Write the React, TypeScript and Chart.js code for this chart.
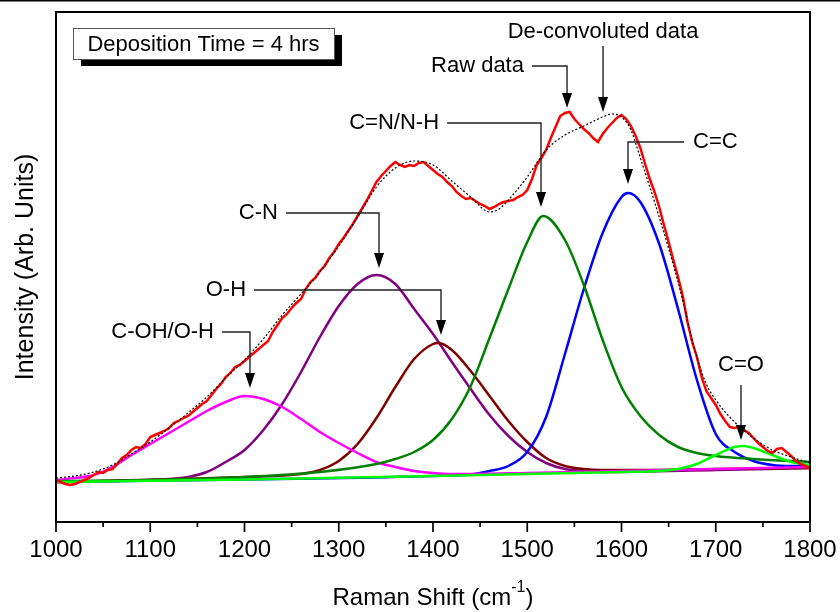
import React, { useEffect, useRef } from "react";
import { Chart, registerables } from "chart.js";
Chart.register(...registerables);

const FONT = '"Liberation Sans", Arial, Helvetica, sans-serif';

// ---- axis ----
const majorTicks = [1000, 1100, 1200, 1300, 1400, 1500, 1600, 1700, 1800];
const minorTicks = [1050, 1150, 1250, 1350, 1450, 1550, 1650, 1750];

// ---- raw data (red) ----
const rawShift = [
  1000, 1005, 1010, 1015, 1020, 1025, 1030, 1035, 1040, 1045, 1050, 1055, 1060, 1065, 1070, 1075, 1080, 1085, 1090, 1095,
  1100, 1105, 1110, 1115, 1120, 1125, 1130, 1135, 1140, 1145, 1150, 1155, 1160, 1165, 1170, 1175, 1180, 1185, 1190, 1195,
  1200, 1205, 1210, 1215, 1220, 1225, 1230, 1235, 1240, 1245, 1250, 1255, 1260, 1265, 1270, 1275, 1280, 1285, 1290, 1295,
  1300, 1305, 1310, 1315, 1320, 1325, 1330, 1335, 1340, 1345, 1350, 1355, 1360, 1365, 1370, 1375, 1380, 1385, 1390, 1395,
  1400, 1405, 1410, 1415, 1420, 1425, 1430, 1435, 1440, 1445, 1450, 1455, 1460, 1465, 1470, 1475, 1480, 1485, 1490, 1495,
  1500, 1505, 1510, 1515, 1520, 1525, 1530, 1535, 1540, 1545, 1550, 1555, 1560, 1565, 1570, 1575, 1580, 1585, 1590, 1595,
  1600, 1605, 1610, 1615, 1620, 1625, 1630, 1635, 1640, 1645, 1650, 1655, 1660, 1665, 1670, 1675, 1680, 1685, 1690, 1695,
  1700, 1705, 1710, 1715, 1720, 1725, 1730, 1735, 1740, 1745, 1750, 1755, 1760, 1765, 1770, 1775, 1780, 1785, 1790, 1795,
  1800,
];
const rawIntensity = [
  42, 40, 38, 37, 38, 40, 42, 44, 47, 50, 49, 52, 53, 58, 64, 67, 72, 75, 74, 78,
  85, 87, 89, 91, 94, 99, 101, 104, 106, 110, 114, 118, 121, 127, 133, 138, 145, 149, 155, 157,
  161, 165, 169, 173, 177, 181, 190, 197, 204, 208, 214, 219, 223, 233, 240, 244, 251, 256, 264, 270,
  278, 284, 291, 298, 306, 314, 322, 331, 340, 346, 351, 356, 360, 357, 355, 357, 356, 359, 360, 356,
  352, 348, 345, 340, 336, 330, 326, 323, 324, 321, 318, 316, 313, 315, 318, 320, 321, 322, 325, 327,
  332, 343, 357, 364, 372, 384, 395, 406, 409, 410, 403, 398, 393, 389, 384, 380, 388, 394, 399, 404,
  407, 403, 396, 386, 374, 358, 343, 330, 315, 297, 280, 262, 245, 226, 200, 180, 165, 145, 131, 124,
  117, 108, 101, 95, 94, 95, 92, 89, 84, 79, 75, 71, 69, 73, 74, 70, 66, 61, 58, 56,
  54,
];

// ---- de-convoluted sum (dotted) ----
const fitShift = [1000, 1020, 1040, 1060, 1080, 1100, 1120, 1140, 1160, 1180, 1200, 1220, 1240, 1260, 1280, 1300, 1320, 1340, 1360, 1380, 1400, 1420, 1440, 1460, 1470, 1480, 1500, 1520, 1540, 1560, 1580, 1590, 1600, 1610, 1620, 1640, 1660, 1680, 1690, 1700, 1720, 1740, 1760, 1780, 1800];
const fitIntensity = [44, 46, 50, 57, 68, 80, 94, 109, 125, 144, 162, 183, 207, 228, 250, 276, 305, 335, 354, 361, 357, 341, 325, 310, 313, 322, 345, 372, 387, 396, 405, 408, 405, 392, 364, 305, 240, 165, 138, 122, 100, 84, 72, 65, 59];

// ---- components ----
const cohShift = [1000, 1020, 1040, 1060, 1080, 1100, 1120, 1140, 1160, 1180, 1200, 1220, 1240, 1260, 1280, 1300, 1320, 1340, 1360, 1380, 1400, 1420, 1440, 1500, 1600, 1700, 1800];
const cohIntensity = [42, 44, 47, 55, 67, 78, 89, 100, 111, 120, 126, 123, 115, 103, 90, 79, 69, 60, 55, 51, 49, 48, 48, 49, 51, 53, 55];

const cnShift = [1000, 1100, 1120, 1140, 1160, 1180, 1200, 1220, 1240, 1260, 1280, 1300, 1320, 1340, 1360, 1380, 1400, 1420, 1440, 1460, 1480, 1500, 1520, 1540, 1560, 1580, 1700, 1800];
const cnIntensity = [40, 42, 43, 45, 50, 60, 72, 92, 118, 150, 185, 216, 238, 247, 238, 213, 188, 160, 133, 107, 86, 70, 59, 53, 51, 50, 52, 54];

const ohShift = [1000, 1200, 1260, 1280, 1300, 1320, 1340, 1360, 1380, 1400, 1406, 1420, 1440, 1460, 1480, 1500, 1520, 1540, 1560, 1580, 1600, 1700, 1800];
const ohIntensity = [40, 45, 48, 52, 61, 78, 104, 135, 163, 178, 179, 172, 151, 126, 101, 80, 64, 56, 53, 52, 52, 53, 54];

const cnnhShift = [1000, 1100, 1200, 1280, 1340, 1360, 1380, 1400, 1420, 1440, 1460, 1480, 1500, 1517, 1540, 1560, 1580, 1600, 1620, 1640, 1660, 1680, 1700, 1740, 1800];
const cnnhIntensity = [41, 42, 45, 50, 58, 63, 70, 82, 103, 136, 184, 233, 280, 306, 282, 237, 182, 135, 106, 87, 75, 69, 66, 63, 60];

const ccShift = [1000, 1400, 1440, 1460, 1480, 1500, 1520, 1540, 1560, 1580, 1600, 1607, 1620, 1640, 1660, 1680, 1700, 1720, 1740, 1760, 1780, 1800];
const ccIntensity = [40, 46, 47.5, 51, 56, 70, 105, 168, 233, 289, 325, 329, 320, 278, 213, 142, 88, 70, 61, 57, 56, 56];

const coShift = [1000, 1200, 1400, 1600, 1640, 1660, 1680, 1700, 1720, 1730, 1740, 1760, 1780, 1800];
const coIntensity = [40, 42.5, 46, 50, 51, 53, 58, 67, 75, 76, 74, 67, 60, 57];

// ---- annotations (data coordinates) ----
const annLabels = ["C-OH/O-H", "O-H", "C-N", "C=N/N-H", "Raw data", "De-convoluted data", "C=C", "C=O"];
const annSide = ["left", "left", "left", "left", "left", "top", "right", "top"];
const annTipShift = [1205.8, 1408.5, 1342.7, 1514.6, 1542.2, 1580.4, 1606.9, 1726.8];
const annTipIntensity = [134, 187, 254, 315, 414, 410, 338, 82];
const annLevelIntensity = [190, 232, 309, 399, 456, 476, 380, 137];
const annStartShift = [1176.1, 1210.1, 1244.0, 1414.9, 1505.0, 1580.4, 1666.3, 1726.8];
const annTextIntensity = [190, 232, 309, 399, 456, 490, 380, 157];

const boxText = "Deposition Time = 4 hrs";

function pts(xs: number[], ys: number[]) {
  return xs.map((x, i) => ({ x, y: ys[i] }));
}

const overlay = {
  id: "overlay",
  afterDatasetsDraw(chart: any) {
    const { ctx, chartArea: ca, scales } = chart;
    const xs = scales.x;
    const ys = scales.y;
    ctx.save();
    // top rule of page
    ctx.fillStyle = "#000";
    ctx.fillRect(0, 0, chart.width, 1.5);

    // frame
    ctx.strokeStyle = "#000";
    ctx.lineWidth = 2;
    ctx.strokeRect(ca.left, ca.top, ca.right - ca.left, ca.bottom - ca.top);

    // ticks
    ctx.lineWidth = 1.7;
    ctx.beginPath();
    majorTicks.forEach((v) => {
      const px = xs.getPixelForValue(v);
      ctx.moveTo(px, ca.bottom);
      ctx.lineTo(px, ca.bottom + 10);
    });
    minorTicks.forEach((v) => {
      const px = xs.getPixelForValue(v);
      ctx.moveTo(px, ca.bottom);
      ctx.lineTo(px, ca.bottom + 5);
    });
    ctx.stroke();

    // tick labels
    ctx.fillStyle = "#000";
    ctx.font = `24px ${FONT}`;
    ctx.textAlign = "center";
    ctx.textBaseline = "middle";
    majorTicks.forEach((v) => {
      ctx.fillText(String(v), xs.getPixelForValue(v), ca.bottom + 28);
    });

    // x title with superscript
    const cx = (ca.left + ca.right) / 2;
    const ty = 598;
    const mainA = "Raman Shift (cm";
    const sup = "-1";
    const mainB = ")";
    ctx.font = `24px ${FONT}`;
    const wA = ctx.measureText(mainA).width;
    const wB = ctx.measureText(mainB).width;
    ctx.font = `16px ${FONT}`;
    const wS = ctx.measureText(sup).width;
    const total = wA + wS + wB;
    let sx = cx - total / 2;
    ctx.textAlign = "left";
    ctx.font = `24px ${FONT}`;
    ctx.fillText(mainA, sx, ty);
    sx += wA;
    ctx.font = `16px ${FONT}`;
    ctx.fillText(sup, sx, ty - 10);
    sx += wS;
    ctx.font = `24px ${FONT}`;
    ctx.fillText(mainB, sx, ty);

    // y title
    ctx.save();
    ctx.translate(26, (ca.top + ca.bottom) / 2);
    ctx.rotate(-Math.PI / 2);
    ctx.textAlign = "center";
    ctx.font = `25px ${FONT}`;
    ctx.fillText("Intensity (Arb. Units)", 0, 0);
    ctx.restore();

    // annotations
    ctx.font = `22px ${FONT}`;
    ctx.strokeStyle = "#222";
    ctx.fillStyle = "#000";
    ctx.lineWidth = 1.4;
    const headLen = 15;
    const headHalf = 5;
    annLabels.forEach((label, i) => {
      const tipX = xs.getPixelForValue(annTipShift[i]);
      const tipY = ys.getPixelForValue(annTipIntensity[i]);
      const levY = ys.getPixelForValue(annLevelIntensity[i]);
      const startX = xs.getPixelForValue(annStartShift[i]);
      const textY = ys.getPixelForValue(annTextIntensity[i]);
      ctx.beginPath();
      if (annSide[i] === "top") {
        ctx.moveTo(tipX, levY);
      } else {
        ctx.moveTo(startX, levY);
        ctx.lineTo(tipX, levY);
      }
      ctx.lineTo(tipX, tipY - headLen + 2);
      ctx.stroke();
      ctx.beginPath();
      ctx.moveTo(tipX - headHalf, tipY - headLen);
      ctx.lineTo(tipX + headHalf, tipY - headLen);
      ctx.lineTo(tipX, tipY);
      ctx.closePath();
      ctx.fill();
      ctx.textBaseline = "middle";
      if (annSide[i] === "left") {
        ctx.textAlign = "right";
        ctx.fillText(label, startX - 8, textY);
      } else if (annSide[i] === "right") {
        ctx.textAlign = "left";
        ctx.fillText(label, startX + 9, textY);
      } else {
        ctx.textAlign = "center";
        ctx.fillText(label, tipX, textY);
      }
    });

    // deposition time box
    const bx = ca.left + 17;
    const by = ca.top + 16;
    const bw = 261;
    const bh = 31;
    ctx.fillStyle = "#000";
    ctx.fillRect(bx + 8, by + 7, bw, bh);
    ctx.fillStyle = "#fff";
    ctx.fillRect(bx, by, bw, bh);
    ctx.strokeStyle = "#555";
    ctx.lineWidth = 1;
    ctx.strokeRect(bx + 0.5, by + 0.5, bw, bh);
    ctx.fillStyle = "#000";
    ctx.font = `22px ${FONT}`;
    ctx.textAlign = "center";
    ctx.textBaseline = "middle";
    ctx.fillText(boxText, bx + bw / 2, by + bh / 2 + 1);

    ctx.restore();
  },
};

export default function App() {
  const ref = useRef<HTMLCanvasElement | null>(null);
  useEffect(() => {
    document.body.style.margin = "0";
    const canvas = ref.current;
    if (!canvas) return;
    const comp = (label: string, xs: number[], ys: number[], color: string) => ({
      label,
      data: pts(xs, ys),
      borderColor: color,
      backgroundColor: color,
      borderWidth: 2.5,
      pointRadius: 0,
      fill: false,
      cubicInterpolationMode: "monotone" as const,
    });
    const chart = new Chart(canvas, {
      type: "line",
      data: {
        datasets: [
          {
            label: "De-convoluted data",
            data: pts(fitShift, fitIntensity),
            borderColor: "#000",
            borderWidth: 1.2,
            borderDash: [2, 2],
            pointRadius: 0,
            fill: false,
            cubicInterpolationMode: "monotone",
          },
          {
            label: "Raw data",
            data: pts(rawShift, rawIntensity),
            borderColor: "#ff0000",
            borderWidth: 2.5,
            pointRadius: 0,
            fill: false,
            tension: 0,
          },
          comp("C=O", coShift, coIntensity, "#00ff00"),
          comp("C=N/N-H", cnnhShift, cnnhIntensity, "#008000"),
          comp("C-OH/O-H", cohShift, cohIntensity, "#ff00ff"),
          comp("C=C", ccShift, ccIntensity, "#0000ff"),
          comp("O-H", ohShift, ohIntensity, "#800000"),
          comp("C-N", cnShift, cnIntensity, "#800080"),
        ] as any,
      },
      options: {
        animation: false,
        responsive: false,
        events: [],
        layout: { padding: { left: 56, right: 30, top: 12, bottom: 90 } },
        scales: {
          x: { type: "linear", min: 1000, max: 1800, display: false },
          y: { type: "linear", min: 0, max: 510, display: false },
        },
        plugins: { legend: { display: false }, tooltip: { enabled: false } },
      },
      plugins: [overlay],
    });
    return () => chart.destroy();
  }, []);
  return (
    <div style={{ position: "absolute", left: 0, top: 0, width: 840, height: 612, background: "#fff" }}>
      <canvas ref={ref} width={840} height={612} />
    </div>
  );
}
